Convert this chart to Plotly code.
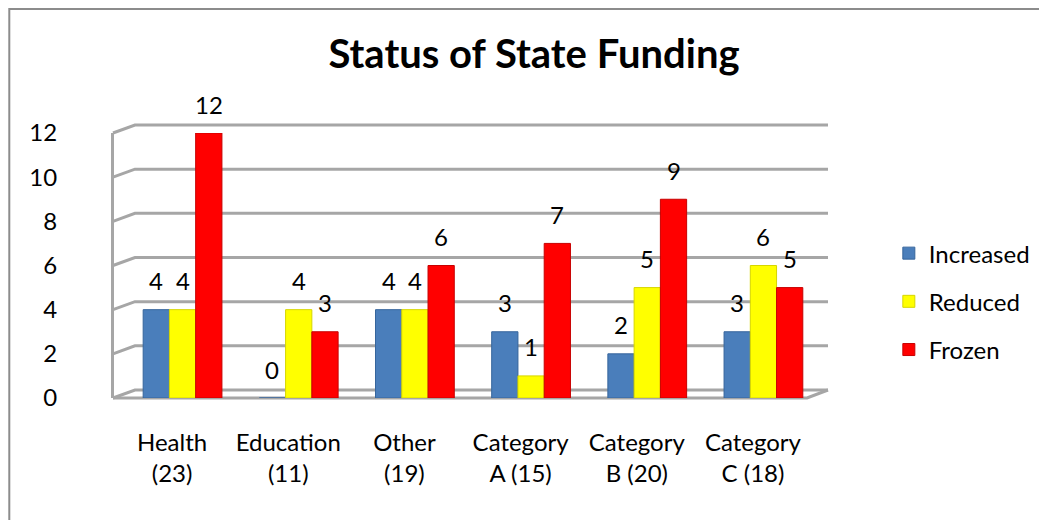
import plotly.graph_objects as go

categories = ["Health<br>(23)", "Education<br>(11)", "Other<br>(19)",
              "Category<br>A (15)", "Category<br>B (20)", "Category<br>C (18)"]
increased = [4, 0, 4, 3, 2, 3]
reduced = [4, 4, 4, 1, 5, 6]
frozen = [12, 3, 6, 7, 9, 5]
y_ticks = [0, 2, 4, 6, 8, 10, 12]

series = [
    ("Increased", increased, "#4a7ebb", "#36659c"),
    ("Reduced", reduced, "#ffff00", "#d6d600"),
    ("Frozen", frozen, "#ff0000", "#c80000"),
]

FONT = "Lato, 'Open Sans', sans-serif"
GRID = "#a6a6a6"

# page body has an 8px margin; the figure is sized so the screenshot matches
W, H = 1039, 512
L, R, T, B = 106, 217, 125, 122
plot_w = W - L - R
plot_h = H - T - B
cat_px = 116.6                      # pixel spacing between categories
x_range = [-0.5, 5.5 + 17 / cat_px]
bar_w = 0.226
offsets = [-0.249, -0.023, 0.203]
depth_x, depth_y = 21, 8            # 3-D wall offset in pixels

fig = go.Figure()

# 3-D back-wall gridlines with diagonal edge on the side wall (decoration)
for t in y_ticks:
    yf = t / 12
    yb = yf + depth_y / plot_h
    fig.add_shape(type="path", xref="paper", yref="paper",
                  path=f"M {-1 / plot_w},{yf} L {depth_x / plot_w},{yb} L 1,{yb}",
                  line=dict(color=GRID, width=3), layer="below")
# floor front edge
fig.add_shape(type="path", xref="paper", yref="paper",
              path=f"M {-1 / plot_w},0 L {1 - depth_x / plot_w},0 L 1,{depth_y / plot_h}",
              line=dict(color=GRID, width=3), layer="below")

for (name, vals, col, edge), off in zip(series, offsets):
    fig.add_trace(go.Bar(
        x=categories, y=vals, name=name, legendgroup=name,
        width=bar_w, offset=off,
        marker=dict(color=col, line=dict(color=edge, width=1)),
        cliponaxis=False,
    ))
    for c, v in zip(categories, vals):
        fig.add_annotation(x=c, y=v, xref="x", yref="y", text=str(v),
                           showarrow=False, xshift=(off + bar_w / 2) * cat_px,
                           yshift=29, yanchor="middle",
                           font=dict(size=24, color="black", family=FONT))

fig.update_layout(
    width=W, height=H,
    paper_bgcolor="white", plot_bgcolor="rgba(0,0,0,0)",
    margin=dict(l=L, r=R, t=T, b=B),
    barmode="overlay",
    title=dict(text="<b>Status of State Funding</b>", x=526 / W, xanchor="center",
               y=0.910, yanchor="middle",
               font=dict(size=40, color="black", family=FONT)),
    font=dict(family=FONT, size=24, color="black"),
    legend=dict(x=1.0 + (891 - 8 - L - plot_w) / plot_w, xanchor="left",
                y=0.364, yanchor="middle",
                font=dict(size=24, family=FONT), tracegroupgap=14,
                bgcolor="rgba(0,0,0,0)"),
    showlegend=True,
)
fig.update_xaxes(range=x_range, showgrid=False, showline=False,
                 tickfont=dict(size=24, family=FONT), ticks="",
                 ticklabelstandoff=28)
fig.update_yaxes(range=[0, 12], tickvals=y_ticks, showgrid=False, zeroline=False,
                 showline=True, linecolor=GRID, linewidth=3,
                 tickfont=dict(size=24, family=FONT), ticks="",
                 ticklabelstandoff=49)

# chart frame
fig.add_shape(type="rect", xref="paper", yref="paper",
              x0=-(L - 1) / plot_w, x1=1.5, y0=-1, y1=1 + (T - 1) / plot_h,
              line=dict(color="#8c8c8c", width=2), layer="below")

fig.write_html("out.html")
